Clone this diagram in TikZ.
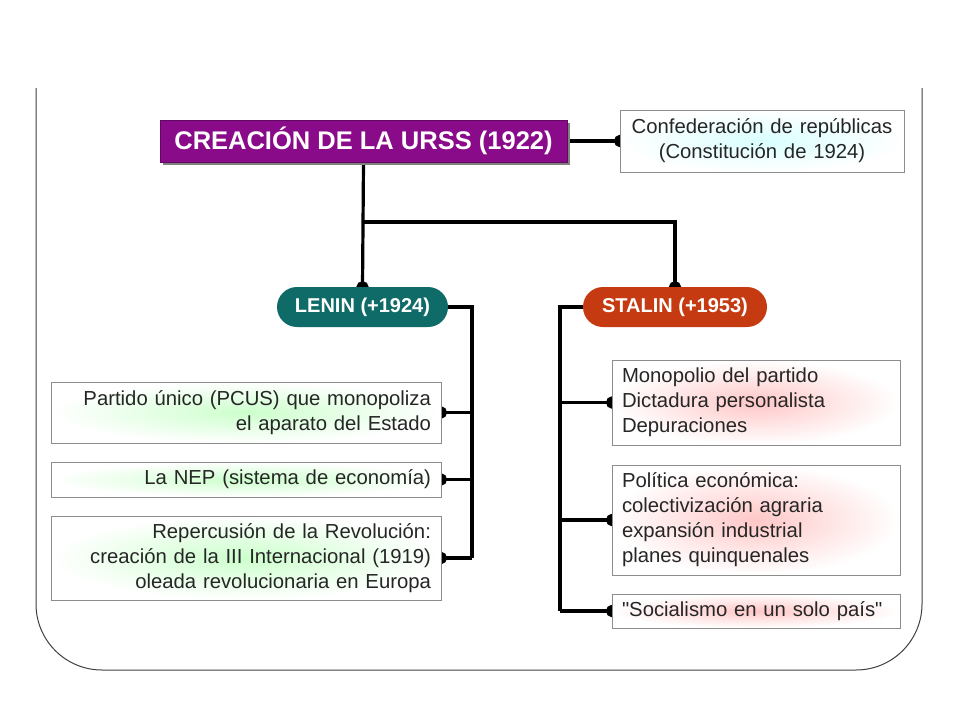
\documentclass[tikz,border=0pt]{standalone}
\usepackage{fontspec}
\setmainfont{Liberation Sans}
\newfontfamily\qfont{Liberation Sans}
\usetikzlibrary{arrows.meta,shadows,backgrounds}
\definecolor{titlepurple}{HTML}{8A0B8A}
\definecolor{leninteal}{HTML}{0F6B67}
\definecolor{stalinred}{HTML}{C63A12}
\definecolor{boxborder}{HTML}{8C8C8C}
\newcommand{\sq}{{\qfont\char34}}
\tikzset{
  x=1pt,y=1pt,
  conn/.style={line width=3.2pt,line join=miter},
  tipped/.style={conn,-{Circle[length=11pt,width=12pt]},shorten >=-5.5pt},
  infobox/.style={draw=boxborder,line width=0.8pt,inner xsep=10pt,inner ysep=4pt,
    font=\fontsize{20.3}{25}\selectfont,text=black!85},
  greenbox/.style={infobox,inner color=green!20,outer color=white,align=right},
  redbox/.style={infobox,inner color=red!22,outer color=white,align=left},
  bluebox/.style={infobox,inner color=cyan!15,outer color=white,align=center},
  leader/.style={rounded corners=20pt,text=white,font=\fontsize{20}{22}\selectfont\bfseries,
    minimum height=40pt,inner sep=0pt}
}
\begin{document}
\begin{tikzpicture}
\useasboundingbox (0,0) rectangle (960,-720);
% frame
\draw[line width=1pt,black!75,rounded corners=66pt] (36,-88) -- (36,-670) -- (922,-670) -- (922,-88);

% nodes
\node[fill=titlepurple,draw=titlepurple!70!black,minimum width=407pt,minimum height=42pt,inner sep=0pt,
  text=white,font=\fontsize{25.5}{28}\selectfont\bfseries,
  drop shadow={shadow xshift=3pt,shadow yshift=-3pt,fill=gray,opacity=1}]
  (title) at (363.5,-141) {CREACIÓN DE LA URSS (1922)};
\node[bluebox,minimum width=284pt,minimum height=62pt,text width=264pt]
  (confed) at (762,-141) {Confederación de repúblicas\\(Constitución de 1924)};

\node[leader,fill=leninteal,minimum width=171pt] (lenin) at (362.5,-307) {LENIN (+1924)};
\node[leader,fill=stalinred,minimum width=184pt] (stalin) at (675,-307) {STALIN (+1953)};

\node[greenbox,minimum width=390pt,minimum height=61pt,text width=370pt]
  (l1) at (246,-412.5) {Partido único (PCUS) que monopoliza\\el aparato del Estado};
\node[greenbox,minimum width=390pt,minimum height=35pt,text width=370pt]
  (l2) at (246,-479.5) {La NEP (sistema de economía)};
\node[greenbox,minimum width=390pt,minimum height=84pt,text width=370pt]
  (l3) at (246,-558) {Repercusión de la Revolución:\\creación de la III Internacional (1919)\\oleada revolucionaria en Europa};

\node[redbox,minimum width=288pt,minimum height=85pt,text width=268pt]
  (r1) at (756,-402.5) {Monopolio del partido\\Dictadura personalista\\Depuraciones};
\node[redbox,minimum width=288pt,minimum height=110pt,text width=268pt]
  (r2) at (756,-520) {Política económica:\\colectivización agraria\\expansión industrial\\planes quinquenales};
\node[redbox,minimum width=288pt,minimum height=34pt,text width=268pt]
  (r3) at (756,-611) {\sq Socialismo en un solo país\sq};

% junction coordinates
\coordinate (j1) at (363.5,-222);
\coordinate (j2) at (675,-222);
\coordinate (lt) at (472,-307);
\coordinate (lb) at (472,-558);
\coordinate (st) at (560,-307);
\coordinate (sb) at (560,-611);

\begin{pgfonlayer}{background}
\fill[white] (0,0) rectangle (960,-720);
\draw[tipped] (title.east) -- (confed.west);
\draw[tipped] (title.south) -- (lenin.north);
\draw[tipped] (j1) -- (j2) -- (stalin.north);
\draw[conn] (lenin.east) -- (lt) -- (lb);
\draw[tipped] (lt |- l1.east) -- (l1.east);
\draw[tipped] (lt |- l2.east) -- (l2.east);
\draw[tipped] (lb) -- (l3.east);
\draw[conn] (stalin.west) -- (st) -- (sb);
\draw[tipped] (st |- r1.west) -- (r1.west);
\draw[tipped] (st |- r2.west) -- (r2.west);
\draw[tipped] (sb) -- (r3.west);
\end{pgfonlayer}
\end{tikzpicture}
\end{document}
